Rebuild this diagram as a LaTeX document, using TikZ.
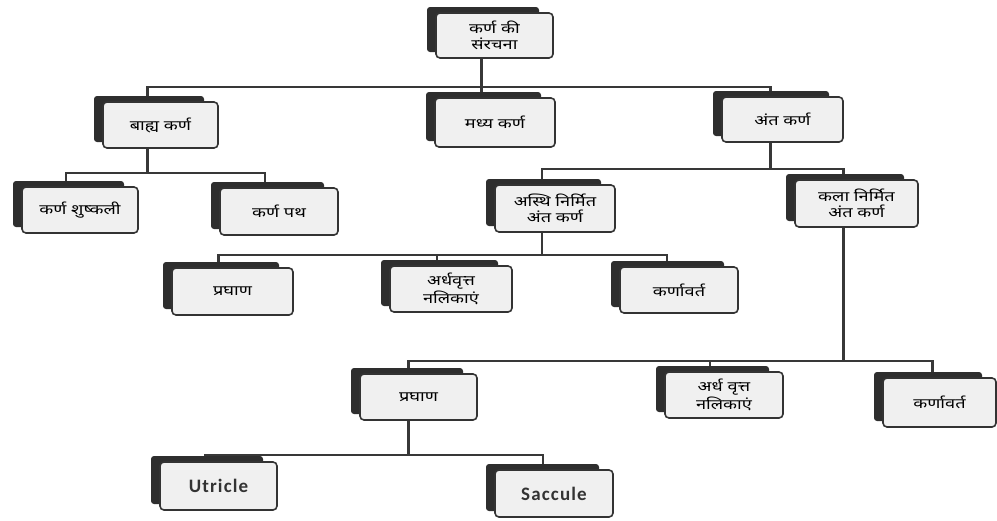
\documentclass[tikz,border=0pt]{standalone}
\usepackage{fontspec}
\newfontfamily\dev[Script=Devanagari,FakeStretch=1.3]{Noto Sans}
\newfontfamily\lat[LetterSpace=6]{Carlito}
\usetikzlibrary{calc}
\pgfdeclarelayer{bg}
\pgfsetlayers{bg,main}
\tikzset{
  front/.style={draw=black!80, line width=1.6pt, fill=black!6, rounded corners=4pt,
    inner sep=0pt, align=center, font=\dev\fontsize{14}{15.5}\selectfont},
  shad/.style={fill=black!82, rounded corners=3pt},
  conn/.style={draw=black!78, line width=2.3pt},
  engl/.style={font=\lat\bfseries\fontsize{19}{21}\selectfont, text=black!80},
}
\newcommand\ebox[7][]{%
  \fill[shad] (#3-9,#4-6) rectangle (#5-14,#6-6);
  \node[front, #1, minimum width={(#5-#3)*1pt}, minimum height={(#6-#4)*1pt}] (#2) at ({(#3+#5)/2},{(#4+#6)/2}) {#7};
}
\begin{document}
\begin{tikzpicture}[x=1pt,y=-1pt]
\useasboundingbox (0,0) rectangle (997,520);

\ebox{root}{436}{13}{553}{58}{कर्ण की\\संरचना}
\ebox{bah}{103}{102}{218}{148}{बाह्य कर्ण}
\ebox{madh}{435}{98}{555}{147}{मध्य कर्ण}
\ebox{ant}{722}{97}{843}{142}{अंत कर्ण}
\ebox{kshu}{22}{187}{138}{233}{कर्ण शुष्कली}
\ebox{kpath}{220}{188}{338}{235}{कर्ण पथ}
\ebox{asthi}{495}{185}{615}{232}{अस्थि निर्मित\\अंत कर्ण}
\ebox{kala}{795}{180}{918}{227}{कला निर्मित\\अंत कर्ण}
\ebox{praone}{172}{268}{293}{315}{प्रघाण}
\ebox{ardhone}{390}{266}{512}{312}{अर्धवृत्त\\नलिकाएं}
\ebox{karnone}{620}{267}{738}{313}{कर्णावर्त}
\ebox{pratwo}{360}{374}{477}{420}{प्रघाण}
\ebox{ardhtwo}{665}{372}{783}{418}{अर्ध वृत्त\\नलिकाएं}
\ebox{karntwo}{883}{378}{996}{427}{कर्णावर्त}
\ebox[engl]{utr}{160}{462}{277}{510}{Utricle}
\ebox[engl]{sac}{495}{470}{613}{517}{Saccule}

\begin{pgfonlayer}{bg}
  \fill[white] (0,0) rectangle (997,520);
  % level 0 -> 1
  \draw[conn] ($(root.south)+(-13,0)$) -- ++(0,28) coordinate (j0);
  \coordinate (baht) at ($(bah.north)+(-13,0)$);
  \coordinate (antt) at ($(ant.north)+(-12,0)$);
  \draw[conn] (baht) |- (j0) -| (antt);
  \draw[conn] (j0) -- (j0 |- madh.north);
  % external ear
  \draw[conn] ($(bah.south)+(-13,0)$) -- ++(0,24) coordinate (j1);
  \coordinate (kshut) at ($(kshu.north)+(-14,0)$);
  \coordinate (kpatht) at ($(kpath.north)+(-14,0)$);
  \draw[conn] (kshut) |- (j1) -| (kpatht);
  % inner ear
  \draw[conn] ($(ant.south)+(-12,0)$) -- ++(0,26) coordinate (j2);
  \coordinate (asthit) at ($(asthi.north)+(-13,0)$);
  \coordinate (kalat) at ($(kala.north)+(-13,0)$);
  \draw[conn] (asthit) |- (j2) -| (kalat);
  % bony labyrinth
  \draw[conn] ($(asthi.south)+(-13,0)$) -- ++(0,22) coordinate (j3);
  \coordinate (praonet) at ($(praone.north)+(-14,0)$);
  \coordinate (ardhonet) at ($(ardhone.north)+(-14,0)$);
  \coordinate (karnonet) at ($(karnone.north)+(-12,0)$);
  \draw[conn] (praonet) |- (j3) -| (karnonet);
  \draw[conn] (ardhonet) -- (ardhonet |- j3);
  % membranous labyrinth
  \draw[conn] ($(kala.south)+(-13,0)$) -- ++(0,133) coordinate (j4);
  \coordinate (pratwot) at ($(pratwo.north)+(-10,0)$);
  \coordinate (ardhtwot) at ($(ardhtwo.north)+(-14,0)$);
  \coordinate (karntwot) at ($(karntwo.north)+(-7,0)$);
  \draw[conn] (pratwot) |- (j4) -| (karntwot);
  \draw[conn] (ardhtwot) -- (ardhtwot |- j4);
  % vestibule
  \draw[conn] ($(pratwo.south)+(-10,0)$) -- ++(0,34) coordinate (j5);
  \coordinate (utrt) at ($(utr.north)+(-13,0)$);
  \coordinate (sact) at ($(sac.north)+(-11,0)$);
  \draw[conn] (utrt) |- (j5) -| (sact);
\end{pgfonlayer}
\end{tikzpicture}
\end{document}
